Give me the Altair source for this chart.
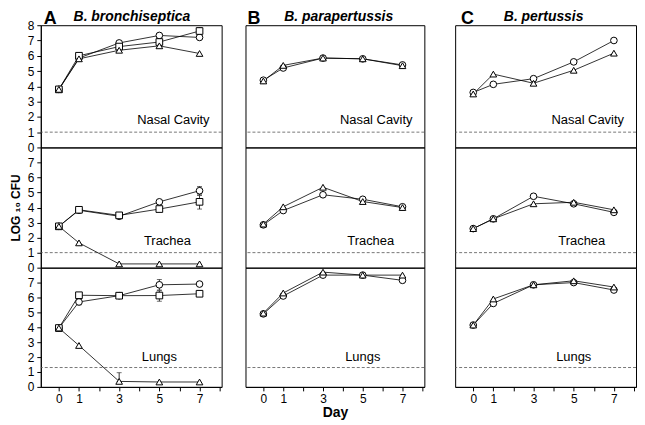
import altair as alt
import pandas as pd

days = [0, 1, 3, 5, 7]
organs = ["Nasal Cavity", "Trachea", "Lungs"]
species = ["B. bronchiseptica", "B. parapertussis", "B. pertussis"]
letters = ["A", "B", "C"]
detection_limits = [1.0, 1.0, 1.3]

# B. bronchiseptica
bb_nasal_circle = [3.8, 5.85, 6.84, 7.33, 7.2]
bb_nasal_square = [3.8, 6.0, 6.6, 6.9, 7.62]
bb_nasal_triangle = [3.8, 5.8, 6.36, 6.65, 6.15]
bb_trachea_circle = [2.75, 3.82, 3.42, 4.38, 5.12]
bb_trachea_square = [2.75, 3.85, 3.48, 3.9, 4.38]
bb_trachea_triangle = [2.75, 1.65, 0.25, 0.25, 0.25]
bb_lungs_circle = [3.95, 5.7, 6.12, 6.85, 6.9]
bb_lungs_square = [3.95, 6.15, 6.12, 6.13, 6.25]
bb_lungs_triangle = [3.95, 2.78, 0.37, 0.33, 0.33]

# B. parapertussis
bp_nasal_circle = [4.4, 5.2, 5.85, 5.8, 5.4]
bp_nasal_triangle = [4.35, 5.37, 5.85, 5.8, 5.35]
bp_trachea_circle = [2.85, 3.8, 4.85, 4.55, 4.05]
bp_trachea_triangle = [2.9, 4.05, 5.35, 4.4, 4.0]
bp_lungs_circle = [4.9, 6.1, 7.5, 7.5, 7.15]
bp_lungs_triangle = [4.95, 6.3, 7.7, 7.5, 7.5]

# B. pertussis
pt_nasal_circle = [3.6, 4.13, 4.5, 5.6, 7.0]
pt_nasal_triangle = [3.5, 4.8, 4.2, 5.05, 6.17]
pt_trachea_circle = [2.6, 3.25, 4.75, 4.25, 3.68]
pt_trachea_triangle = [2.6, 3.25, 4.25, 4.35, 3.85]
pt_lungs_circle = [4.15, 5.6, 6.85, 7.0, 6.5]
pt_lungs_triangle = [4.15, 5.9, 6.85, 7.12, 6.7]

# error bars: species index, organ index, series, day, low, high
err_species = [0, 0, 0, 0, 0, 0, 0, 0, 0]
err_organ = [0, 1, 1, 1, 2, 2, 2, 2, 2]
err_series = ["square", "circle", "square", "circle", "circle", "square", "circle", "triangle", "square"]
err_day = [7, 7, 7, 1, 5, 5, 1, 3, 7]
err_low = [7.42, 4.85, 3.9, 3.65, 6.5, 5.75, 5.5, 0.37, 6.1]
err_high = [7.85, 5.4, 4.8, 4.0, 7.2, 6.45, 5.9, 0.95, 6.4]

panel_series = {
    (0, 0): {"circle": bb_nasal_circle, "square": bb_nasal_square, "triangle": bb_nasal_triangle},
    (0, 1): {"circle": bb_trachea_circle, "square": bb_trachea_square, "triangle": bb_trachea_triangle},
    (0, 2): {"circle": bb_lungs_circle, "square": bb_lungs_square, "triangle": bb_lungs_triangle},
    (1, 0): {"circle": bp_nasal_circle, "triangle": bp_nasal_triangle},
    (1, 1): {"circle": bp_trachea_circle, "triangle": bp_trachea_triangle},
    (1, 2): {"circle": bp_lungs_circle, "triangle": bp_lungs_triangle},
    (2, 0): {"circle": pt_nasal_circle, "triangle": pt_nasal_triangle},
    (2, 1): {"circle": pt_trachea_circle, "triangle": pt_trachea_triangle},
    (2, 2): {"circle": pt_lungs_circle, "triangle": pt_lungs_triangle},
}

FONT = "Liberation Sans"
widths = [182, 180, 182]
heights = [123, 121, 120]
label_pos = [(7.5, 1.8, "right"), (5.4, 1.8, "center"), (5.0, 2.0, "center")]
title_letter_x = [3, 2, 6]
title_species_x = [33, 39, 49]

x_scale = alt.Scale(domain=[-0.9, 8.1], nice=False, zero=False)
y_scale = alt.Scale(domain=[0, 8], nice=False, zero=False)
shape_scale = alt.Scale(domain=["circle", "square", "triangle"],
                        range=["circle", "square", "triangle-up"])


def panel(si, oi):
    rows = []
    for name, vals in panel_series[(si, oi)].items():
        for d, v in zip(days, vals):
            rows.append({"day": d, "value": v, "series": name})
    df = pd.DataFrame(rows)

    bottom = oi == 2
    if bottom:
        x_axis = alt.Axis(values=list(range(0, 9)), grid=False, tickSize=4,
                          labelExpr="(datum.value==2||datum.value==4||datum.value==6||datum.value==8) ? '' : datum.label",
                          labelFontSize=12, labelFont=FONT, labelColor="black",
                          tickColor="black", domainColor="black",
                          title="Day" if si == 1 else None,
                          titleFontSize=14, titleFont=FONT, titleFontWeight="bold",
                          titlePadding=1, labelPadding=3)
    else:
        x_axis = None
    if si == 0:
        y_axis = alt.Axis(values=list(range(0, 9 if oi == 0 else 8)), grid=False,
                          tickSize=4, labelFontSize=12, labelFont=FONT,
                          labelColor="black", tickColor="black", domainColor="black",
                          title="LOG ₁₀ CFU" if oi == 1 else None,
                          titleFontSize=12, titleFont=FONT, titleFontWeight="bold",
                          titlePadding=5, labelPadding=3)
    else:
        y_axis = None

    x = alt.X("day:Q", scale=x_scale, axis=x_axis)
    y = alt.Y("value:Q", scale=y_scale, axis=y_axis)

    base = alt.Chart(df)
    lines = base.mark_line(color="black", strokeWidth=0.8).encode(
        x=x, y=y, detail="series:N")
    points = base.mark_point(filled=True, fill="white", stroke="black",
                             strokeWidth=1, size=45, opacity=1).encode(
        x=x, y=y, shape=alt.Shape("series:N", scale=shape_scale, legend=None))

    dl = alt.Chart(pd.DataFrame({"v": [detection_limits[oi]]})).mark_rule(
        color="#555555", strokeWidth=0.8, strokeDash=[3, 2]).encode(
        y=alt.Y("v:Q", scale=y_scale, axis=y_axis))

    lx, ly, la = label_pos[oi]
    lab = alt.Chart(pd.DataFrame({"x": [lx], "y": [ly], "t": [organs[oi]]})).mark_text(
        font=FONT, fontSize=13, align=la, baseline="middle", color="black").encode(
        x=alt.X("x:Q", scale=x_scale, axis=x_axis),
        y=alt.Y("y:Q", scale=y_scale, axis=y_axis), text="t:N")

    layers = [dl]

    erows = [
        {"day": d, "lo": lo, "hi": hi}
        for s, o, ser, d, lo, hi in zip(err_species, err_organ, err_series,
                                        err_day, err_low, err_high)
        if s == si and o == oi
    ]
    if erows:
        edf = pd.DataFrame(erows)
        eb = alt.Chart(edf).mark_rule(color="black", strokeWidth=0.8).encode(
            x=alt.X("day:Q", scale=x_scale, axis=x_axis),
            y=alt.Y("lo:Q", scale=y_scale, axis=y_axis), y2="hi:Q")
        cap_hi = alt.Chart(edf).mark_tick(color="black", orient="horizontal",
                                          size=5, thickness=0.8).encode(
            x=alt.X("day:Q", scale=x_scale, axis=x_axis),
            y=alt.Y("hi:Q", scale=y_scale, axis=y_axis))
        cap_lo = alt.Chart(edf).mark_tick(color="black", orient="horizontal",
                                          size=5, thickness=0.8).encode(
            x=alt.X("day:Q", scale=x_scale, axis=x_axis),
            y=alt.Y("lo:Q", scale=y_scale, axis=y_axis))
        layers += [eb, cap_hi, cap_lo]

    layers += [lines, points, lab]

    if oi == 0:
        t1 = alt.Chart(pd.DataFrame({"t": [letters[si]]})).mark_text(
            font=FONT, fontSize=18, fontWeight="bold", align="left",
            baseline="alphabetic", color="black").encode(
            x=alt.value(title_letter_x[si]), y=alt.value(-1), text="t:N")
        t2 = alt.Chart(pd.DataFrame({"t": [species[si]]})).mark_text(
            font=FONT, fontSize=14, fontWeight="bold", fontStyle="italic",
            align="left", baseline="alphabetic", color="black").encode(
            x=alt.value(title_species_x[si]), y=alt.value(-4), text="t:N")
        layers += [t1, t2]

    return alt.layer(*layers).properties(width=widths[si], height=heights[oi])


columns = []
for si in range(3):
    columns.append(alt.vconcat(*[panel(si, oi) for oi in range(3)],
                               spacing=0, bounds="flush"))

chart = alt.hconcat(
    columns[0],
    alt.hconcat(columns[1], columns[2], spacing=29),
    spacing=22,
).properties(
    padding={"left": 0, "top": 0, "right": 0, "bottom": 0}
).configure(
    background="white",
    view=alt.ViewConfig(stroke="black", strokeWidth=1),
)

chart.save("out.html", embed_options={"renderer": "svg", "actions": False})
